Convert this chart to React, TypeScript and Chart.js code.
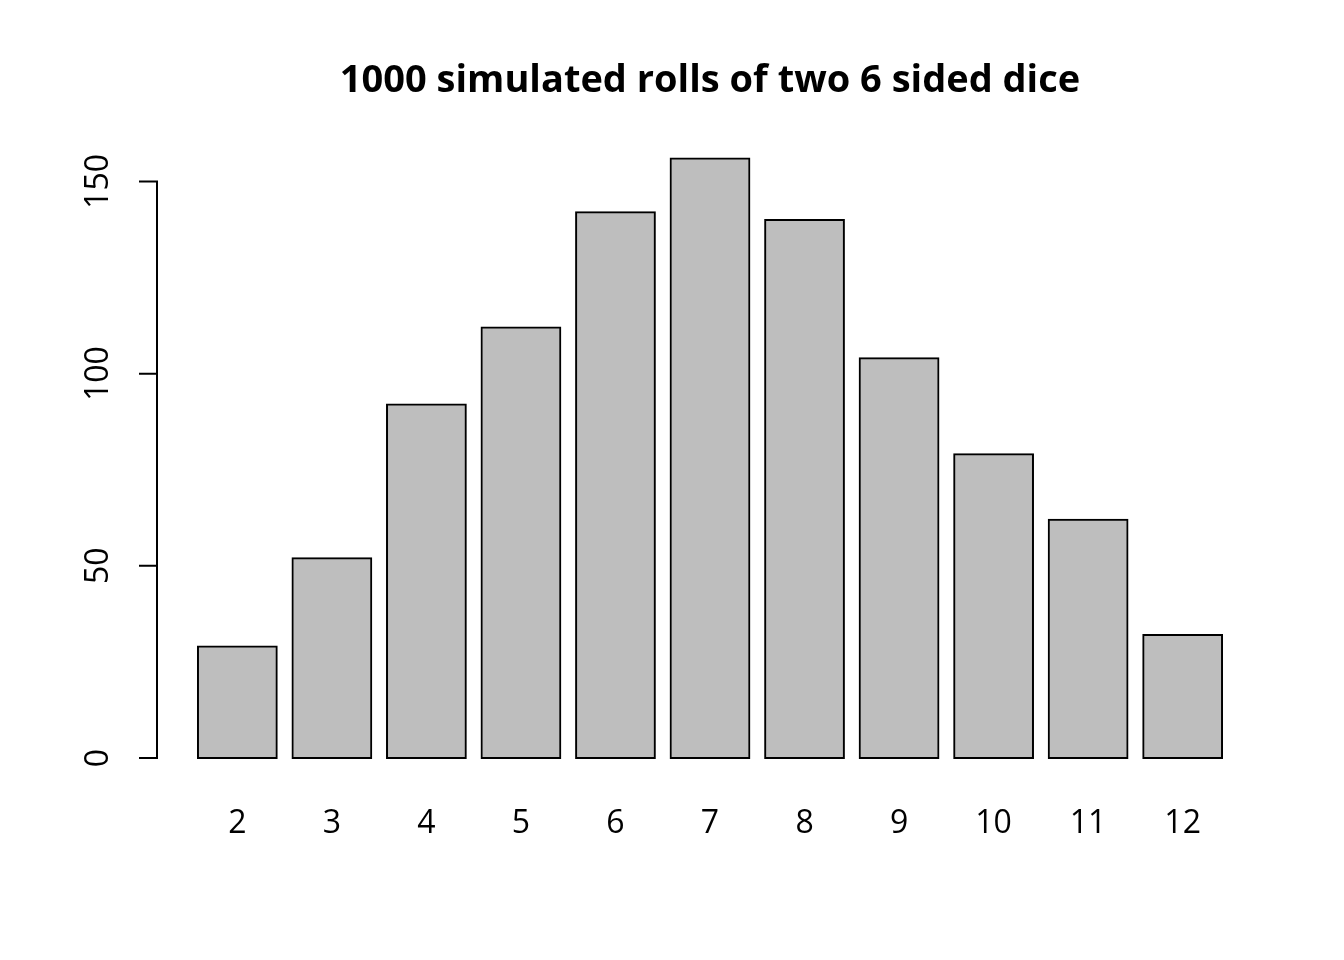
import { useEffect, useRef } from "react";
import { Chart, registerables } from "chart.js";

Chart.register(...registerables);

const categories = ["2", "3", "4", "5", "6", "7", "8", "9", "10", "11", "12"];
const counts = [29, 52, 92, 112, 142, 156, 140, 104, 79, 62, 32];
const yTicks = [0, 50, 100, 150];
const titleText = "1000 simulated rolls of two 6 sided dice";

// R barplot geometry: width 1, space 0.2 -> centers at 0.7 + 1.2 * i
const barX = categories.map((_, i) => 0.7 + 1.2 * i);
const xLo = 0.2;
const xHi = 0.2 + 1.2 * categories.length - 0.2;
const xPad = (xHi - xLo) * 0.04;
const yMaxData = Math.max(...counts);
const yPad = yMaxData * 0.04;

const FONT = '"Open Sans", "Noto Sans", sans-serif';

const rAxes = {
  id: "rAxes",
  afterDraw(chart: any) {
    const { ctx, chartArea, scales } = chart;
    const y = scales.y;
    const x = scales.x;
    ctx.save();
    ctx.strokeStyle = "#000";
    ctx.lineWidth = 2;
    const ax = chartArea.left;
    ctx.beginPath();
    ctx.moveTo(ax, y.getPixelForValue(yTicks[0]));
    ctx.lineTo(ax, y.getPixelForValue(yTicks[yTicks.length - 1]));
    for (const t of yTicks) {
      const py = y.getPixelForValue(t);
      ctx.moveTo(ax + 1, py);
      ctx.lineTo(ax - 18, py);
    }
    ctx.stroke();
    ctx.fillStyle = "#000";
    ctx.font = `32px ${FONT}`;
    for (const t of yTicks) {
      ctx.save();
      ctx.translate(ax - 58, y.getPixelForValue(t));
      ctx.rotate(-Math.PI / 2);
      ctx.textAlign = "center";
      ctx.textBaseline = "middle";
      ctx.fillText(String(t), 0, 0);
      ctx.restore();
    }
    ctx.textAlign = "center";
    ctx.textBaseline = "alphabetic";
    categories.forEach((c, i) => {
      ctx.fillText(c, x.getPixelForValue(barX[i]), chartArea.bottom + 51);
    });
    ctx.restore();
  },
};

export default function App() {
  const canvasRef = useRef<HTMLCanvasElement | null>(null);

  useEffect(() => {
    document.body.style.margin = "0";
    const canvas = canvasRef.current;
    if (!canvas) return;
    const chart = new Chart(canvas, {
      type: "bar",
      data: {
        datasets: [
          {
            data: categories.map((_, i) => ({ x: barX[i], y: counts[i] })),
            backgroundColor: "#bebebe",
            borderColor: "#000000",
            borderWidth: 2,
            borderSkipped: false,
            inflateAmount: 1,
            categoryPercentage: 1,
            barPercentage: 1 / 1.2,
          } as any,
        ],
      },
      options: {
        responsive: false,
        animation: false,
        events: [],
        layout: {
          padding: { left: 157, right: 81, top: 58, bottom: 178 },
        },
        plugins: {
          legend: { display: false },
          tooltip: { enabled: false },
          title: {
            display: true,
            text: titleText,
            color: "#000",
            font: { family: FONT, size: 38, weight: "bold", lineHeight: 1.2 },
            padding: { top: 0, bottom: 30.8 },
          },
        },
        scales: {
          x: {
            type: "linear",
            display: false,
            offset: false,
            min: xLo - xPad,
            max: xHi + xPad,
            afterBuildTicks: (scale: any) => {
              scale.ticks = barX.map((v) => ({ value: v }));
            },
          },
          y: {
            type: "linear",
            display: false,
            min: -yPad,
            max: yMaxData + yPad,
          },
        },
      },
      plugins: [rAxes],
    });
    return () => chart.destroy();
  }, []);

  return <canvas ref={canvasRef} width={1344} height={960} />;
}
